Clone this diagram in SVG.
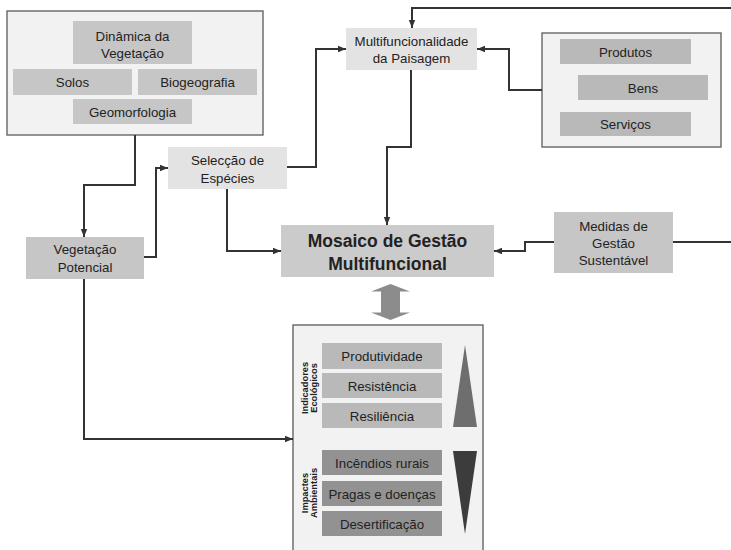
<svg xmlns="http://www.w3.org/2000/svg" width="731" height="550" viewBox="0 0 731 550">
  <defs>
    <marker id="arrow" markerUnits="userSpaceOnUse" markerWidth="9" markerHeight="8" refX="8" refY="4" orient="auto">
      <path d="M0,0.8 L8,4 L0,7.2 Z" fill="#333"/>
    </marker>
    <style>
      text { font-family: "Liberation Sans", Arial, sans-serif; fill: #222; text-anchor: middle; }
      .t { font-size: 13.3px; }
      .big { font-size: 17.5px; font-weight: bold; }
      .side { font-size: 9.3px; font-weight: bold; }
      .frame { fill: #f2f2f2; stroke: #5a5a5a; stroke-width: 1.3; }
      .box { fill: #c6c6c6; }
      .light { fill: #e3e3e3; }
      .mid { fill: #b9b9b9; }
      .dark { fill: #929292; }
      .conn path { fill: none; stroke: #333; stroke-width: 2; marker-end: url(#arrow); }
      .conn path.plain { marker-end: none; }
    </style>
  </defs>
  <rect width="731" height="550" fill="#ffffff"/>

  <!-- Landscape factors -->
  <g id="factores">
    <rect class="frame" x="7" y="11" width="256" height="124"/>
    <rect class="box" x="73" y="21" width="119" height="43"/>
    <text class="t" x="132.5" y="41">Dinâmica da</text>
    <text class="t" x="132.5" y="57.5">Vegetação</text>
    <rect class="box" x="13" y="69" width="119" height="26"/>
    <text class="t" x="72.5" y="87">Solos</text>
    <rect class="box" x="138" y="69" width="119" height="26"/>
    <text class="t" x="197.5" y="87">Biogeografia</text>
    <rect class="box" x="73" y="99" width="119" height="25"/>
    <text class="t" x="132.5" y="116.5">Geomorfologia</text>
  </g>

  <g id="multifuncionalidade">
    <rect class="light" x="346" y="28" width="131" height="42"/>
    <text class="t" x="411.5" y="46">Multifuncionalidade</text>
    <text class="t" x="411.5" y="63">da Paisagem</text>
  </g>

  <g id="produtos-bens-servicos">
    <rect class="frame" x="542" y="33" width="179" height="114"/>
    <rect class="mid" x="560" y="39" width="131" height="25"/>
    <text class="t" x="625.5" y="56.5">Produtos</text>
    <rect class="mid" x="578" y="75" width="130" height="25"/>
    <text class="t" x="643" y="92.5">Bens</text>
    <rect class="mid" x="560" y="112" width="131" height="24"/>
    <text class="t" x="625.5" y="128.5">Serviços</text>
  </g>

  <g id="seleccao">
    <rect class="light" x="168" y="147" width="119" height="42"/>
    <text class="t" x="227.5" y="165">Selecção de</text>
    <text class="t" x="227.5" y="183">Espécies</text>
  </g>

  <g id="vegetacao-potencial">
    <rect class="box" x="26" y="237" width="118" height="42"/>
    <text class="t" x="85" y="254">Vegetação</text>
    <text class="t" x="85" y="272">Potencial</text>
  </g>

  <g id="mosaico">
    <rect fill="#cbcbcb" x="281" y="225" width="213" height="52"/>
    <text class="big" x="387.5" y="247">Mosaico de Gestão</text>
    <text class="big" x="387.5" y="270">Multifuncional</text>
  </g>

  <g id="medidas">
    <rect class="box" x="554" y="212" width="119" height="61"/>
    <text class="t" x="613.5" y="231">Medidas de</text>
    <text class="t" x="613.5" y="248">Gestão</text>
    <text class="t" x="613.5" y="265">Sustentável</text>
  </g>

  <!-- Two-way exchange between the mosaic and its indicators -->
  <g id="seta-dupla">
    <path d="M390.5,284 L410,291.5 L400,291.5 L400,312.5 L410,312.5 L390.5,320 L371,312.5 L381,312.5 L381,291.5 L371,291.5 Z" fill="#8c8c8c"/>
  </g>

  <g id="indicadores-impactes">
    <rect class="frame" x="293" y="325" width="190" height="240"/>
    <text class="side" transform="translate(307.5 388) rotate(-90)">Indicadores</text>
    <text class="side" transform="translate(316.5 388) rotate(-90)">Ecológicos</text>
    <rect class="mid" x="322" y="343" width="120" height="26"/>
    <text class="t" x="382" y="361">Produtividade</text>
    <rect class="mid" x="322" y="373" width="120" height="25"/>
    <text class="t" x="382" y="390.5">Resistência</text>
    <rect class="mid" x="322" y="403" width="120" height="25"/>
    <text class="t" x="382" y="420.5">Resiliência</text>
    <polygon points="465,345 477,427 453,427" fill="#6e6e6e"/>

    <text class="side" transform="translate(307.5 493) rotate(-90)">Impactes</text>
    <text class="side" transform="translate(316.5 493) rotate(-90)">Ambientais</text>
    <rect class="dark" x="322" y="450" width="120" height="25"/>
    <text class="t" x="382" y="467.5">Incêndios rurais</text>
    <rect class="dark" x="322" y="481" width="120" height="25"/>
    <text class="t" x="382" y="498.5">Pragas e doenças</text>
    <rect class="dark" x="322" y="511" width="120" height="25"/>
    <text class="t" x="382" y="528.5">Desertificação</text>
    <polygon points="453,451 477,451 465,534" fill="#3c3c3c"/>
  </g>

  <g id="conectores" class="conn">
    <path d="M135,135 V185 H84 V237"/>
    <path d="M144,257 H156 V168 H168"/>
    <path d="M227,189 V251 H281"/>
    <path d="M287,167 H316 V49 H346"/>
    <path d="M411,70 V147 H387 V225"/>
    <path d="M731,8 H412 V28"/>
    <path d="M542,90 H509 V49 H477"/>
    <path d="M554,242 H525 V251 H494"/>
    <path class="plain" d="M673,242 H731"/>
    <path d="M84,279 V439 H293"/>
  </g>
</svg>
